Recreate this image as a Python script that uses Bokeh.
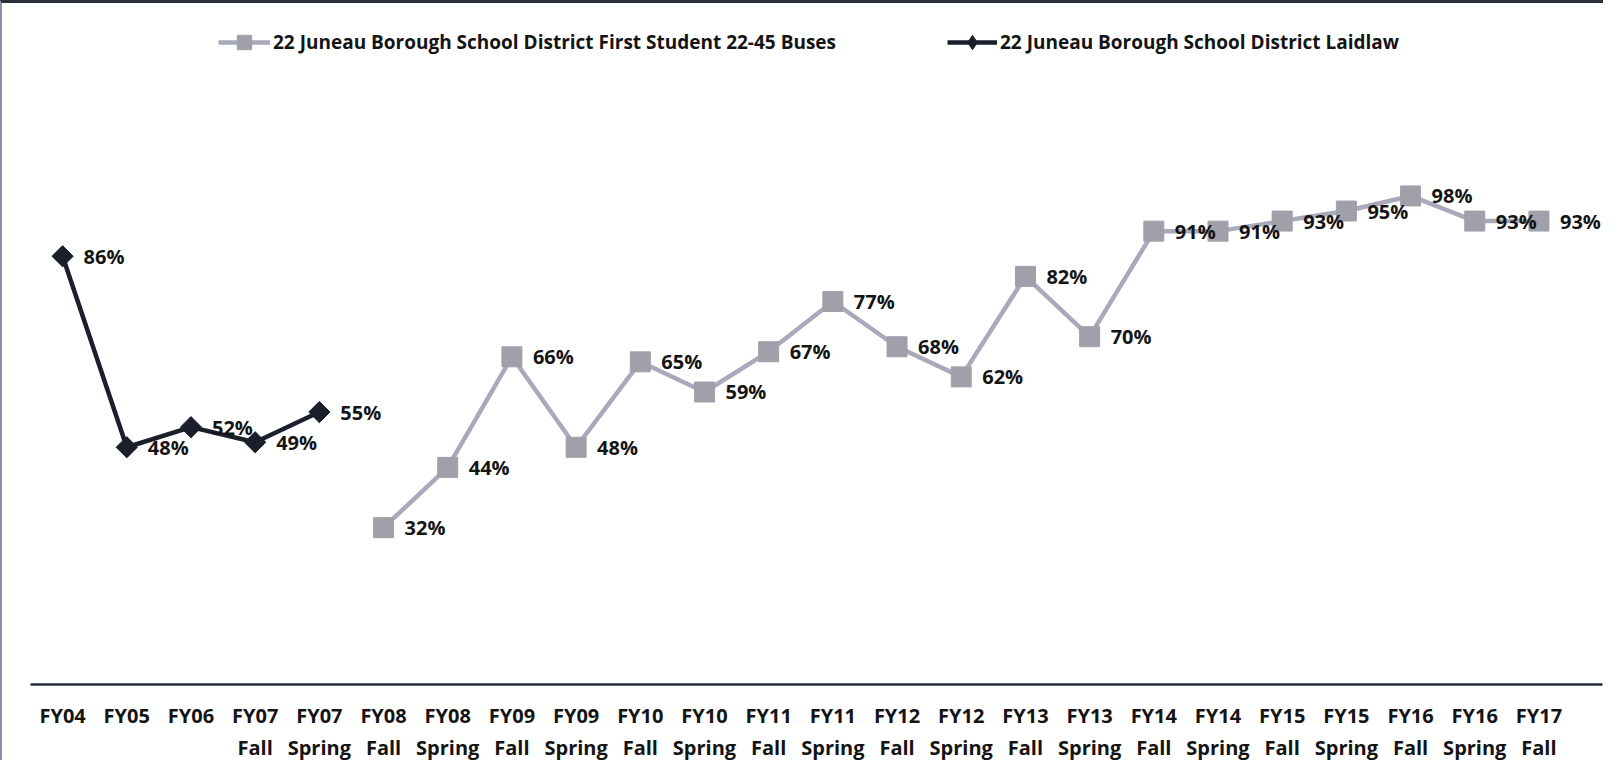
import math
from bokeh.plotting import figure
from bokeh.models import ColumnDataSource, Range1d, FixedTicker, Legend, LegendItem
from bokeh.core.properties import value
from bokeh.embed import file_html
from bokeh.resources import INLINE

categories = ["FY04", "FY05", "FY06", "FY07\nFall", "FY07\nSpring", "FY08\nFall", "FY08\nSpring",
              "FY09\nFall", "FY09\nSpring", "FY10\nFall", "FY10\nSpring", "FY11\nFall", "FY11\nSpring",
              "FY12\nFall", "FY12\nSpring", "FY13\nFall", "FY13\nSpring", "FY14\nFall", "FY14\nSpring",
              "FY15\nFall", "FY15\nSpring", "FY16\nFall", "FY16\nSpring", "FY17\nFall"]

laidlaw_cats = ["FY04", "FY05", "FY06", "FY07\nFall", "FY07\nSpring"]
laidlaw_vals = [0.86, 0.48, 0.52, 0.49, 0.55]

first_cats = ["FY08\nFall", "FY08\nSpring", "FY09\nFall", "FY09\nSpring", "FY10\nFall", "FY10\nSpring",
              "FY11\nFall", "FY11\nSpring", "FY12\nFall", "FY12\nSpring", "FY13\nFall", "FY13\nSpring",
              "FY14\nFall", "FY14\nSpring", "FY15\nFall", "FY15\nSpring", "FY16\nFall", "FY16\nSpring",
              "FY17\nFall"]
first_vals = [0.32, 0.44, 0.66, 0.48, 0.65, 0.59, 0.67, 0.77, 0.68, 0.62, 0.82, 0.70,
              0.91, 0.91, 0.93, 0.95, 0.98, 0.93, 0.93]

series1_name = "22 Juneau Borough School District First Student 22-45 Buses"
series2_name = "22 Juneau Borough School District Laidlaw"

FONT = "Open Sans"
GRAY_LINE = "#a8aabb"
GRAY_MARK = "#9fa0aa"
DARK = "#1b1f2c"
TEXT = "#141414"

idx = {c: i for i, c in enumerate(categories)}

def src(cats, vals):
    return ColumnDataSource(dict(
        x=[idx[c] for c in cats],
        y=vals,
        lab=["%d%%" % round(v * 100) for v in vals],
    ))

s_first = src(first_cats, first_vals)
s_laid = src(laidlaw_cats, laidlaw_vals)

p = figure(width=1603, height=760, output_backend="svg", toolbar_location=None,
           x_range=Range1d(-0.5, 23.99), y_range=Range1d(0.008, 1.343),
           min_border_left=28, min_border_right=3, min_border_top=10, min_border_bottom=72)
p.background_fill_color = "white"
p.border_fill_color = "white"
p.outline_line_color = None
p.xgrid.visible = False
p.ygrid.visible = False
p.yaxis.visible = False

ax = p.xaxis[0]
ax.ticker = FixedTicker(ticks=list(range(len(categories))))
ax.major_label_overrides = {i: c for i, c in enumerate(categories)}
ax.axis_line_color = "#262b3c"
ax.axis_line_width = 2.5
ax.major_tick_line_color = None
ax.minor_tick_line_color = None
ax.major_label_standoff = 11
ax.major_label_text_font = FONT
ax.major_label_text_font_size = "20px"
ax.major_label_text_font_style = "bold"
ax.major_label_text_color = TEXT

l1 = p.line("x", "y", source=s_first, line_color=GRAY_LINE, line_width=4.5)
m1 = p.scatter("x", "y", source=s_first, marker="square", size=20,
               fill_color=GRAY_MARK, line_color=GRAY_MARK)
l2 = p.line("x", "y", source=s_laid, line_color=DARK, line_width=4.5)
# diamond drawn under the rotated square; used as the legend swatch
m2_key = p.scatter("x", "y", source=s_laid, marker="diamond", size=20,
                   fill_color=DARK, line_color=DARK)
m2 = p.scatter("x", "y", source=s_laid, marker="square", size=15, angle=math.pi / 4,
               fill_color=DARK, line_color=DARK)

for s in (s_first, s_laid):
    p.text("x", "y", text="lab", source=s, x_offset=21, text_align="left",
           text_baseline="middle", text_font=value(FONT), text_font_size="20px",
           text_font_style="bold", text_color=TEXT)

common = dict(orientation="horizontal", padding=0, margin=0, border_line_color=None,
              background_fill_alpha=0, label_text_font=FONT, label_text_font_size="19px",
              label_text_font_style="bold", label_text_color=TEXT,
              label_height=36, glyph_height=36, label_standoff=3)
leg1 = Legend(items=[LegendItem(label=series1_name, renderers=[l1, m1])],
              location=(188, 624), glyph_width=52, **common)
leg2 = Legend(items=[LegendItem(label=series2_name, renderers=[l2, m2_key])],
              location=(917, 624), glyph_width=50, **common)
p.add_layout(leg1)
p.add_layout(leg2)

p.styles = {"border-top": "3px solid #2b2f3a", "border-left": "2px solid #8a90a8"}

open("out.html", "w").write(file_html(p, INLINE))
